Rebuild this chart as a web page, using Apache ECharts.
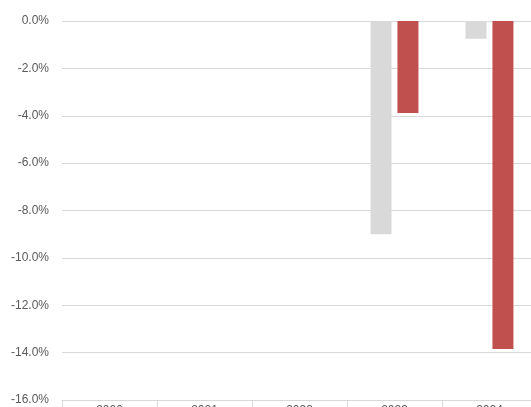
<!DOCTYPE html>
<html><head><meta charset="utf-8">
<script src="https://cdn.jsdelivr.net/npm/echarts@6/dist/echarts.min.js"></script>
<style>html,body{margin:0;padding:0;background:#fff}#c{width:531px;height:407px}</style>
</head><body><div id="c"></div>
<script>
var categories = ['2020', '2021', '2022', '2023', '2024'];
var seriesGrey = [null, null, null, -9.0, -0.75];
var seriesRed = [null, null, null, -3.88, -13.85];
var yTicks = [0, -2, -4, -6, -8, -10, -12, -14, -16];

var chart = echarts.init(document.getElementById('c'), null, {renderer: 'canvas'});
chart.setOption({
  animation: false,
  grid: {left: 62, right: -6, top: 21, bottom: 7, containLabel: false, outerBoundsMode: 'none'},
  xAxis: {
    type: 'category', data: categories, position: 'bottom',
    axisLine: {show: true, onZero: false, lineStyle: {color: '#d9d9d9', width: 1}},
    axisTick: {show: true, length: 8, lineStyle: {color: '#d9d9d9'}},
    axisLabel: {color: '#595959', fontSize: 12, fontFamily: 'Liberation Sans, Arial, sans-serif', margin: 5}
  },
  yAxis: {
    type: 'value', min: yTicks[yTicks.length - 1], max: yTicks[0], interval: 2,
    axisLine: {show: false}, axisTick: {show: false},
    splitLine: {lineStyle: {color: '#d9d9d9', width: 1}},
    axisLabel: {color: '#595959', fontSize: 12, fontFamily: 'Liberation Sans, Arial, sans-serif', margin: 13,
      formatter: function (v) { return v.toFixed(1) + '%'; }}
  },
  series: [
    {type: 'bar', data: seriesGrey, barWidth: 21, barGap: '28%', itemStyle: {color: '#d9d9d9'}},
    {type: 'bar', data: seriesRed, barWidth: 21, barGap: '28%', itemStyle: {color: '#c0504d'}}
  ]
});
</script></body></html>
